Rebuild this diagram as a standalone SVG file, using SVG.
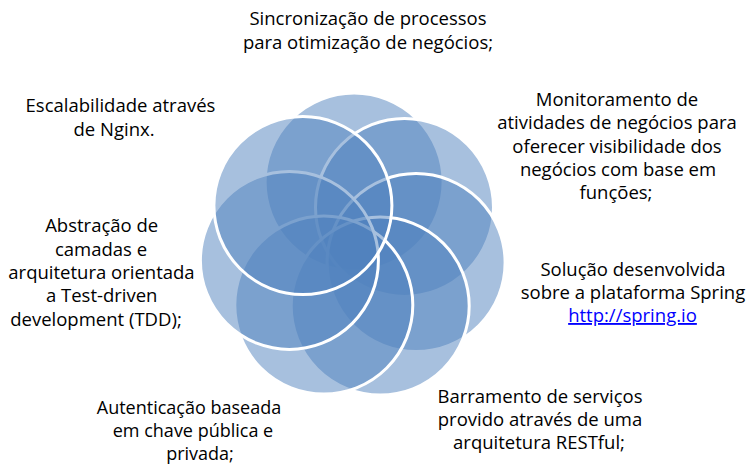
<svg xmlns="http://www.w3.org/2000/svg" width="746" height="466" viewBox="0 0 746 466">
<style>
.c{fill:#4F81BD;fill-opacity:0.5;stroke:#FFFFFF;stroke-width:3}
text{font-family:"Open Sans","Liberation Sans",sans-serif;font-size:18.5px;fill:#000000;text-anchor:middle}
.lnk{fill:#0000FF;text-decoration:underline}
.sm{font-size:18px}
</style>
<rect width="746" height="466" fill="#FFFFFF"/>
<g id="circles">
<g id="c1"><circle class="c" cx="354.1" cy="182" r="89"/></g>
<g id="c2"><circle class="c" cx="404.5" cy="207.4" r="89"/></g>
<g id="c3"><circle class="c" cx="416.1" cy="262.6" r="89"/></g>
<g id="c4"><circle class="c" cx="380.2" cy="306.1" r="89"/></g>
<g id="c5"><circle class="c" cx="323.8" cy="305.1" r="89"/></g>
<g id="c6"><circle class="c" cx="289.4" cy="260.4" r="89"/></g>
<g id="c7"><circle class="c" cx="302.9" cy="205.6" r="89"/></g>
</g>
<g id="connectors"></g>
<g id="t1"><text x="368" y="25">Sincronização de processos</text><text x="368" y="49">para otimização de negócios;</text></g>
<g id="t2"><text x="617" y="106">Monitoramento de</text><text x="617" y="129.3">atividades de negócios para</text><text x="617" y="152.6">oferecer visibilidade dos</text><text x="618" y="176">negócios com base em</text><text x="616" y="199">funções;</text></g>
<g id="t3"><text x="633" y="276">Solução desenvolvida</text><text x="633" y="299">sobre a plataforma Spring</text><text x="632.5" y="322" class="lnk">http://spring.io</text></g>
<g id="t4"><text x="540" y="402.7">Barramento de serviços</text><text x="540" y="425.5">provido através de uma</text><text x="539" y="448.5">arquitetura RESTful;</text></g>
<g id="t5" class="sm"><text class="sm" x="189" y="413.5">Autenticação baseada</text><text class="sm" x="193" y="436.5">em chave pública e</text><text class="sm" x="200" y="460">privada;</text></g>
<g id="t6"><text x="101.7" y="232.3">Abstração de</text><text x="101" y="255.7">camadas e</text><text x="101.5" y="279">arquitetura orientada</text><text x="101.7" y="302.3">a Test-driven</text><text x="96" y="325.7">development (TDD);</text></g>
<g id="t7"><text x="120.5" y="112.3">Escalabilidade através</text><text x="114" y="135.7">de Nginx.</text></g>
</svg>
